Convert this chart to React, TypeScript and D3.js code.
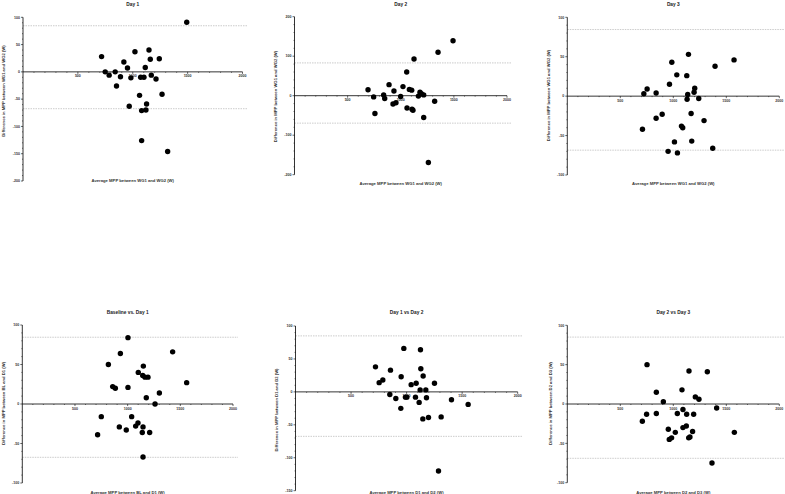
import React from "react";
import * as d3 from "d3";

// ---- data (average W, difference W) ----
const day1Avg = [716, 749, 785, 840, 852, 888, 919, 952, 968, 983, 1020, 1062, 1072, 1081, 1081, 1102, 1114, 1120, 1126, 1148, 1160, 1169, 1212, 1242, 1267, 1318, 1492];
const day1Diff = [28, 0, -6, 0, -26, -9, 18, 7, -63, -11, 37, -43, -10, -71, -126, -10, 8, -70, -59, 40, 23, -6, -13, 24, -41, -146, 91];

const day2Avg = [692, 745, 757, 839, 849, 890, 927, 936, 955, 999, 1021, 1056, 1059, 1081, 1103, 1106, 1115, 1125, 1166, 1181, 1194, 1216, 1216, 1260, 1319, 1351, 1492];
const day2Diff = [15, -3, -45, 2, -7, 28, -21, 12, -18, -2, 23, 60, -31, 16, 14, -34, -37, 93, -1, 9, 5, 2, -55, -169, -14, 110, 139];

const day3Avg = [709, 722, 753, 838, 838, 895, 951, 964, 986, 1011, 1033, 1039, 1077, 1089, 1127, 1130, 1136, 1143, 1168, 1174, 1196, 1202, 1240, 1290, 1372, 1394, 1573];
const day3Diff = [-42, 3, 9, 4, -28, -23, -70, 15, 43, -58, 27, -72, -38, -40, 26, -4, 2, 53, -22, -57, 5, 10, -3, -31, -66, 38, 46];

const blD1Avg = [715, 750, 817, 858, 883, 921, 931, 987, 1003, 1003, 1038, 1076, 1098, 1101, 1143, 1146, 1149, 1139, 1146, 1165, 1177, 1193, 1209, 1260, 1301, 1427, 1560];
const blD1Diff = [-39, -16, 50, 22, 20, -29, 64, -33, 21, 84, -16, -28, -24, 40, 36, -29, 48, -36, -67, 34, 8, 34, -36, 0, 14, 66, 27];

const d1D2Avg = [720, 753, 786, 849, 855, 903, 948, 951, 975, 990, 1002, 1041, 1080, 1086, 1113, 1122, 1125, 1128, 1146, 1149, 1173, 1179, 1197, 1251, 1287, 1311, 1404, 1554];
const d1D2Diff = [38, 14, 18, -4, 33, -10, -25, 23, 66, -8, -8, 11, -8, 13, -16, 3, 64, 35, -41, 24, 3, -9, -39, 13, -120, -38, -12, -19];

const d2D3Avg = [708, 748, 752, 840, 840, 906, 953, 962, 984, 1019, 1038, 1082, 1091, 1091, 1123, 1126, 1145, 1148, 1157, 1182, 1192, 1208, 1242, 1321, 1365, 1409, 1576];
const d2D3Diff = [-22, -13, 50, -12, 15, 3, -32, -45, -43, -36, -12, 18, -7, -30, -28, -13, -43, 42, -42, -35, -13, 9, 6, 41, -75, -5, -36];

const titles = ["Day 1", "Day 2", "Day 3", "Baseline vs. Day 1", "Day 1 vs Day 2", "Day 2 vs Day 3"];
const xLabels = [
  "Average MPP between WG1 and WG2 (W)",
  "Average MPP between WG1 and WG2 (W)",
  "Average MPP between WG1 and WG2 (W)",
  "Average MPP between BL and D1 (W)",
  "Average MPP between D1 and D2 (W)",
  "Average MPP between D2 and D3 (W)",
];
const yLabels = [
  "Difference in MPP between WG1 and WG2 (W)",
  "Difference in MPP between WG1 and WG2 (W)",
  "Difference in MPP between WG1 and WG2 (W)",
  "Difference in MPP between BL and D1 (W)",
  "Difference in MPP between D1 and D2 (W)",
  "Difference in MPP between D2 and D3 (W)",
];
const upperLoA = [84.5, 83, 84.5, 84.5, 85, 85];
const lowerLoA = [-67.5, -69.5, -68.5, -67.5, -67.5, -69];
const yDomains: [number, number][] = [[-200, 100], [-200, 200], [-100, 100], [-100, 100], [-150, 100], [-100, 100]];
const yMajor = [50, 100, 50, 50, 50, 50];
const yMinor = [10, 20, 10, 10, 10, 10];
const xTicks = [500, 1000, 1500, 2000];

const avgs = [day1Avg, day2Avg, day3Avg, blD1Avg, d1D2Avg, d2D3Avg];
const diffs = [day1Diff, day2Diff, day3Diff, blD1Diff, d1D2Diff, d2D3Diff];

// plot frames (left, right, top, bottom) in px
const frames = [
  [23, 242.5, 17.3, 181],
  [294.5, 507, 16.7, 174.7],
  [567.3, 779.3, 17.3, 175],
  [22.3, 233, 325, 483],
  [295.5, 517.7, 326, 490.7],
  [567.3, 779.3, 325.3, 482.7],
];
const yLabelX = [3.5, 275.5, 548, 3, 276.5, 550];
const yLabelMid = [91, 96.5, 95.5, 403.5, 410, 403.5];

const font = "'Liberation Sans', Arial, sans-serif";

function Panel({ i }: { i: number }) {
  const [l, r, t, b] = frames[i];
  const x = d3.scaleLinear().domain([0, 2000]).range([l, r]);
  const y = d3.scaleLinear().domain(yDomains[i]).range([b, t]);
  const [y0, y1] = yDomains[i];
  const majors = d3.range(y0, y1 + 0.001, yMajor[i]);
  const minors = d3.range(y0, y1 + 0.001, yMinor[i]).filter((v) => !majors.includes(v));
  const xMinor = d3.range(100, 2001, 100).filter((v) => !xTicks.includes(v));
  const top = i < 3;
  const titleY = top ? 6 : 314;
  const xLabY = top ? (i === 0 ? 182 : 184.5) : 493.5;
  const cx = (l + r) / 2;
  return (
    <g>
      <text x={cx} y={titleY} textAnchor="middle" fontSize={4.8} fontWeight="bold" fill="#222" fontFamily={font}>
        {titles[i]}
      </text>
      {[upperLoA[i], lowerLoA[i]].map((v, k) => (
        <line key={k} x1={l} x2={r + 5} y1={y(v)} y2={y(v)} stroke="#aaa" strokeWidth={0.6} strokeDasharray="1.5,1" />
      ))}
      {/* y axis */}
      <line x1={l} x2={l} y1={t} y2={b} stroke="#000" strokeWidth={0.8} />
      {majors.map((v) => (
        <g key={"ym" + v}>
          <line x1={l - 2} x2={l} y1={y(v)} y2={y(v)} stroke="#000" strokeWidth={0.6} />
          <text x={l - 3} y={y(v) + 1.2} textAnchor="end" fontSize={3.6} fontWeight="bold" fill="#333" fontFamily={font}>
            {v}
          </text>
        </g>
      ))}
      {minors.map((v) => (
        <line key={"yn" + v} x1={l - 1} x2={l} y1={y(v)} y2={y(v)} stroke="#000" strokeWidth={0.5} />
      ))}
      {/* x axis at zero */}
      <line x1={x(0)} x2={x(2000)} y1={y(0)} y2={y(0)} stroke="#000" strokeWidth={0.8} />
      {xTicks.map((v) => (
        <g key={"xm" + v}>
          <line x1={x(v)} x2={x(v)} y1={y(0)} y2={y(0) + 2} stroke="#000" strokeWidth={0.6} />
          <text x={x(v)} y={y(0) + 5.5} textAnchor="middle" fontSize={3.6} fontWeight="bold" fill="#333" fontFamily={font}>
            {v}
          </text>
        </g>
      ))}
      {xMinor.map((v) => (
        <line key={"xn" + v} x1={x(v)} x2={x(v)} y1={y(0)} y2={y(0) + 1} stroke="#000" strokeWidth={0.5} />
      ))}
      {avgs[i].map((a, k) => (
        <circle key={k} cx={x(a)} cy={y(diffs[i][k])} r={2.7} fill="#000" />
      ))}
      <text x={cx} y={xLabY} textAnchor="middle" fontSize={4.2} fontWeight="bold" fill="#333" fontFamily={font}>
        {xLabels[i]}
      </text>
      <text
        transform={`translate(${yLabelX[i] + 1.5},${yLabelMid[i]}) rotate(-90)`}
        textAnchor="middle"
        fontSize={4.2}
        fontWeight="bold"
        fill="#333"
        fontFamily={font}
      >
        {yLabels[i]}
      </text>
    </g>
  );
}

export default function App() {
  return (
    <svg width={785} height={494} style={{ position: "absolute", left: 0, top: 0, background: "#fff" }}>
      {titles.map((_, i) => (
        <Panel key={i} i={i} />
      ))}
    </svg>
  );
}
